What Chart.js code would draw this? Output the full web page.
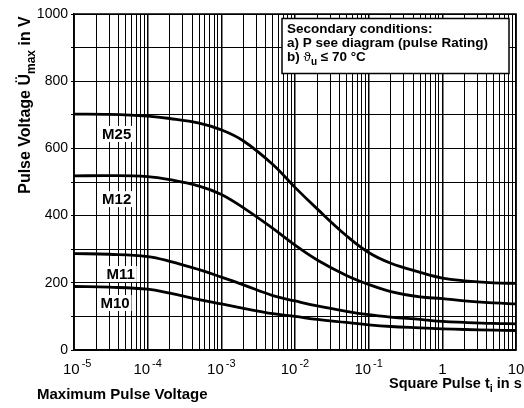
<!DOCTYPE html>
<html><head><meta charset="utf-8">
<script src="https://cdn.jsdelivr.net/npm/chart.js@4"></script>
<style>html,body{margin:0;padding:0;background:#fff;}#wrap{width:524px;height:408px;}</style>
</head><body><div id="wrap"><canvas id="c" width="524" height="408"></canvas></div>
<script>
// ---- data ----
const pulseTimes = [1e-5, 3e-5, 1e-4, 2e-4, 5e-4, 1e-3, 2e-3, 5e-3, 1e-2, 2e-2, 5e-2, 1e-1, 2e-1, 5e-1, 1, 2, 5, 10];
const m25 = [702, 701, 696, 689, 675, 655, 622, 552, 484, 420, 340, 290, 258, 231, 214, 206, 200, 198];
const m12 = [518, 519, 516, 507, 488, 463, 423, 362, 312, 268, 222, 195, 174, 158, 153, 146, 140, 137];
const m11 = [287, 285, 278, 264, 239, 217, 194, 162, 146, 131, 115, 105, 98, 91, 85, 82, 79, 78];
const m10 = [189, 187, 181, 169, 150, 137, 124, 108, 100, 91, 82, 75, 70, 66, 63, 61, 59, 58];
const seriesNames = ['M25', 'M12', 'M11', 'M10'];
const seriesValues = [m25, m12, m11, m10];
const labelTimes = [3.8e-5, 3.8e-5, 4.3e-5, 3.6e-5];
const labelVolts = [643, 449, 226, 140];
const xTickValues = [1e-5, 1e-4, 1e-3, 1e-2, 1e-1, 1, 10];
const xTickBase = ['10', '10', '10', '10', '10', '1', '10'];
const xTickExp = ['-5', '-4', '-3', '-2', '-1', '', ''];
const yLabelValues = [0, 200, 400, 600, 800, 1000];
const noteLines = [
  [{t: 'Secondary conditions:'}],
  [{t: 'a) P see diagram (pulse Rating)'}],
  [{t: 'b) '}, {t: '\u03D1', w: 'normal'}, {t: 'u', s: 'sub'}, {t: ' \u2264 70 \u00B0C'}]
];
const yTitle = [{t: 'Pulse Voltage \u00DC'}, {t: 'max', s: 'sub'}, {t: ' in V'}];
const xTitle = [{t: 'Square Pulse t'}, {t: 'i', s: 'sub'}, {t: ' in s'}];
const leftTitle = 'Maximum Pulse Voltage';

const FONT = '"Liberation Sans", Arial, Helvetica, sans-serif';

// grid positions for the log axis: 1..9 x each decade
const gridTicks = [];
for (let e = -5; e <= 1; e++) {
  for (let m = 1; m <= 9; m++) {
    const v = m * Math.pow(10, e);
    if (v <= 10 * 1.0000001) gridTicks.push(v);
  }
}
function isDecade(v) { const l = Math.log10(v); return Math.abs(l - Math.round(l)) < 1e-9; }

function rich(ctx, parts, x, y, size, measureOnly) {
  let cx = x;
  for (const p of parts) {
    const fs = p.s ? Math.round(size * 0.75) : size;
    ctx.font = `${p.w || 'bold'} ${fs}px ${FONT}`;
    const dy = p.s === 'sub' ? size * 0.3 : (p.s === 'sup' ? -size * 0.45 : 0);
    if (!measureOnly) ctx.fillText(p.t, cx, y + dy);
    cx += ctx.measureText(p.t).width;
  }
  return cx - x;
}

const deco = {
  id: 'deco',
  beforeDatasetsDraw(chart) {
    const {ctx, scales: {x, y}} = chart;
    ctx.save();
    ctx.font = `bold 15px ${FONT}`;
    ctx.textAlign = 'center';
    ctx.textBaseline = 'middle';
    seriesNames.forEach((name, i) => {
      const px = x.getPixelForValue(labelTimes[i]);
      const py = y.getPixelForValue(labelVolts[i]);
      const w = ctx.measureText(name).width;
      ctx.fillStyle = '#fff';
      ctx.fillRect(px - w / 2 - 2, py - 8, w + 4, 16);
      ctx.fillStyle = '#000';
      ctx.fillText(name, px, py + 1);
    });
    ctx.restore();
  },
  afterDraw(chart) {
    const {ctx, chartArea: a, scales: {x}} = chart;
    ctx.save();
    // frame
    ctx.strokeStyle = '#000';
    ctx.lineWidth = 1.5;
    ctx.strokeRect(a.left, a.top, a.right - a.left, a.bottom - a.top);
    // note box
    const bx = a.left + 208, by = a.top + 4.5, bw = 227, bh = 55;
    ctx.fillStyle = '#fff';
    ctx.fillRect(bx, by, bw, bh);
    ctx.lineWidth = 1.5;
    ctx.strokeRect(bx, by, bw, bh);
    ctx.fillStyle = '#000';
    ctx.textAlign = 'left';
    ctx.textBaseline = 'alphabetic';
    const baselines = [by + 14.5, by + 28, by + 42.5];
    noteLines.forEach((ln, i) => rich(ctx, ln, bx + 5, baselines[i], 13.5));
    // x tick labels
    xTickValues.forEach((v, i) => {
      const px = x.getPixelForValue(v);
      ctx.font = `15px ${FONT}`;
      const wb = ctx.measureText(xTickBase[i]).width;
      let we = 0;
      if (xTickExp[i]) { ctx.font = `11px ${FONT}`; we = ctx.measureText(xTickExp[i]).width + 2; }
      let left = px - (wb + we) / 2;
      if (left < 63) left = 63;
      ctx.font = `15px ${FONT}`;
      ctx.fillText(xTickBase[i], left, a.bottom + 23.5);
      if (xTickExp[i]) {
        ctx.font = `11px ${FONT}`;
        ctx.fillText(xTickExp[i], left + wb + 2, a.bottom + 16.5);
      }
    });
    // bottom titles
    ctx.font = `bold 15px ${FONT}`;
    ctx.fillText(leftTitle, 37, 399);
    rich(ctx, xTitle, 389, 387.5, 14.5);
    // y title (rotated)
    ctx.translate(30, 105);
    ctx.rotate(-Math.PI / 2);
    const w = rich(ctx, yTitle, 0, 0, 16, true);
    rich(ctx, yTitle, -w / 2, 0, 16);
    ctx.restore();
  }
};

const datasets = seriesNames.map((name, i) => ({
  label: name,
  data: pulseTimes.map((t, j) => ({x: t, y: seriesValues[i][j]})),
  borderColor: '#000',
  borderWidth: 2.8,
  pointRadius: 0,
  fill: false,
  tension: 0.4
}));

new Chart(document.getElementById('c'), {
  type: 'line',
  data: {datasets},
  options: {
    responsive: false,
    animation: false,
    devicePixelRatio: 1,
    layout: {padding: {left: 0, right: 8, top: 14, bottom: 0}},
    plugins: {legend: {display: false}, tooltip: {enabled: false}},
    scales: {
      x: {
        type: 'logarithmic',
        min: 1e-5,
        max: 10,
        afterBuildTicks(scale) { scale.ticks = gridTicks.map(v => ({value: v})); },
        afterFit(scale) { scale.height = 58; },
        ticks: {display: false},
        grid: {
          color: '#000',
          lineWidth: c => (c.tick && isDecade(c.tick.value)) ? 1.5 : 1,
          drawTicks: false
        },
        border: {display: true, color: '#000', width: 1.5}
      },
      y: {
        min: 0,
        max: 1000,
        afterBuildTicks(scale) {
          const t = [];
          for (let v = 0; v <= 1000; v += 100) t.push({value: v});
          scale.ticks = t;
        },
        afterFit(scale) { scale.width = 74; },
        ticks: {
          color: '#000',
          padding: 3,
          font: {family: FONT, size: 14},
          callback: v => yLabelValues.includes(v) ? String(v) : ''
        },
        grid: {color: '#000', lineWidth: 1, drawTicks: true, tickLength: 3},
        border: {display: true, color: '#000', width: 1.5}
      }
    }
  },
  plugins: [deco]
});
</script></body></html>
